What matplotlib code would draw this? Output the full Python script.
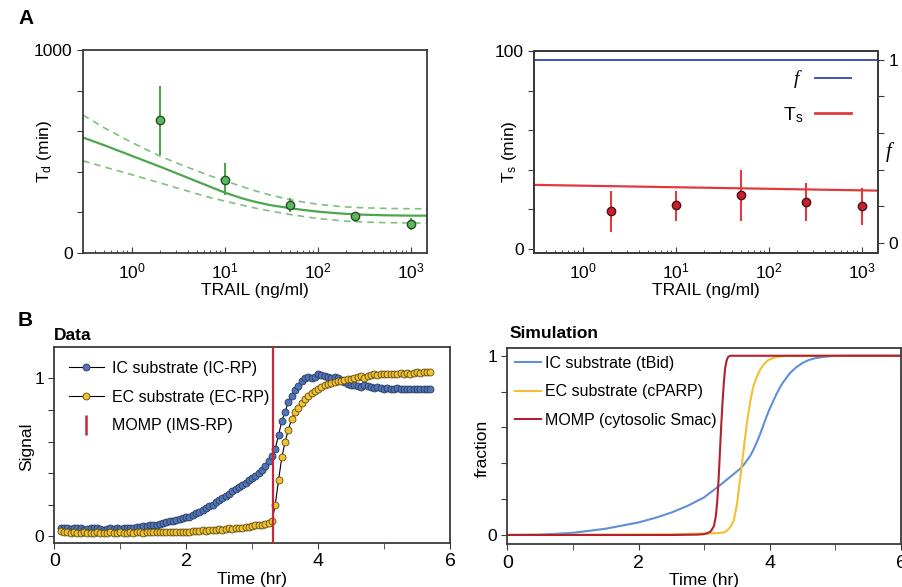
import numpy as np
import matplotlib
matplotlib.use("Agg")
import matplotlib.pyplot as plt
from matplotlib.lines import Line2D

plt.rcParams.update({
    "font.family": ["Liberation Sans", "DejaVu Sans"],
    "font.size": 12.5,
    "mathtext.fontset": "custom",
    "mathtext.rm": "Liberation Sans",
    "mathtext.it": "Liberation Serif:italic",
    "mathtext.bf": "Liberation Sans:bold",
    "axes.linewidth": 1.3,
    "axes.edgecolor": "#3a3a3a",
    "xtick.color": "#3a3a3a",
    "ytick.color": "#3a3a3a",
    "xtick.labelcolor": "black",
    "ytick.labelcolor": "black",
})

# ---- panel A: delay and switching times vs TRAIL dose ----
TRAIL = [2, 10, 50, 250, 1000]
TD_MEAN = [656, 361, 238, 180, 144]
TD_LO = [484, 287, 202, 151, 111]
TD_HI = [825, 443, 270, 197, 172]

FIT_X = [0.3, 0.5, 1, 2, 3, 5, 7, 10, 15, 20, 30, 50, 70, 100, 150, 200,
         300, 500, 1000, 1500]
TD_FIT = [569, 532, 479, 426, 394, 353, 326, 298, 271, 255, 237, 221, 212,
          204, 197, 193, 189, 186, 184, 184]
TD_FIT_HI = [680, 618, 545, 478, 445, 405, 380, 356, 329, 310, 287, 263,
             251, 240, 232, 227, 223, 220, 218, 218]
TD_FIT_LO = [454, 425, 386, 346, 322, 292, 273, 256, 237, 224, 208, 190,
             180, 170, 162, 157, 153, 150, 148, 148]

TS_MEAN = [19.0, 22.0, 27.2, 23.8, 21.5]
TS_LO = [8.4, 14.4, 14.4, 14.4, 12.2]
TS_HI = [29.5, 29.5, 39.9, 33.2, 31.0]
TS_FIT_X = [0.3, 1500]
TS_FIT = [32.4, 29.5]
F_LEVEL = 1.0

# ---- panel B: reporter time courses (3 min sampling) ----
TIME = np.round(np.arange(0.10, 5.701, 0.05), 2)
IC_RP = [0.05, 0.055, 0.05, 0.045, 0.05, 0.055, 0.05, 0.04, 0.045, 0.05,
         0.055, 0.05, 0.045, 0.04, 0.045, 0.05, 0.045, 0.05, 0.045, 0.05,
         0.055, 0.05, 0.055, 0.06, 0.06, 0.065, 0.065, 0.07, 0.07, 0.075,
         0.08, 0.085, 0.09, 0.095, 0.10, 0.105, 0.11, 0.115, 0.12, 0.125,
         0.135, 0.145, 0.155, 0.17, 0.18, 0.19, 0.20, 0.215, 0.23, 0.24,
         0.255, 0.27, 0.285, 0.30, 0.31, 0.325, 0.34, 0.355, 0.37, 0.385,
         0.40, 0.42, 0.445, 0.475, 0.51, 0.555, 0.64, 0.73, 0.79, 0.85,
         0.89, 0.925, 0.95, 0.985, 1.0, 1.01, 1.005, 1.01, 1.025, 1.02,
         1.015, 1.01, 1.005, 1.01, 1.0, 0.99, 0.975, 0.965, 0.96, 0.955,
         0.95, 0.945, 0.955, 0.95, 0.945, 0.94, 0.945, 0.94, 0.935, 0.94,
         0.935, 0.93, 0.94, 0.935, 0.93, 0.935, 0.935, 0.93, 0.935, 0.935,
         0.935, 0.935, 0.935]
EC_RP = [0.035, 0.03, 0.025, 0.02, 0.025, 0.02, 0.02, 0.025, 0.02, 0.02,
         0.02, 0.025, 0.02, 0.02, 0.02, 0.025, 0.02, 0.02, 0.025, 0.02,
         0.02, 0.025, 0.02, 0.025, 0.025, 0.02, 0.025, 0.025, 0.025, 0.025,
         0.025, 0.03, 0.025, 0.03, 0.03, 0.025, 0.03, 0.03, 0.03, 0.03,
         0.035, 0.035, 0.035, 0.04, 0.035, 0.04, 0.04, 0.04, 0.045, 0.04,
         0.045, 0.05, 0.045, 0.05, 0.055, 0.055, 0.06, 0.06, 0.065, 0.07,
         0.07, 0.075, 0.08, 0.085, 0.095, 0.20, 0.355, 0.50, 0.60, 0.675,
         0.745, 0.785, 0.815, 0.845, 0.87, 0.89, 0.905, 0.92, 0.935, 0.945,
         0.955, 0.965, 0.97, 0.975, 0.98, 0.985, 0.99, 0.995, 0.995, 1.0,
         1.01, 1.015, 1.005, 1.015, 1.02, 1.025, 1.02, 1.025, 1.03, 1.025,
         1.03, 1.025, 1.03, 1.035, 1.03, 1.035, 1.03, 1.035, 1.04, 1.035,
         1.04, 1.04, 1.042]
MOMP_TIME = 3.31

SIM_T_IC = [0, 0.5, 1.0, 1.5, 2.0, 2.25, 2.5, 2.75, 3.0, 3.25, 3.3, 3.35,
            3.4, 3.45, 3.5, 3.55, 3.6, 3.65, 3.7, 3.75, 3.8, 3.85, 3.9,
            3.95, 4.0, 4.05, 4.1, 4.15, 4.2, 4.25, 4.3, 4.4, 4.5, 4.6, 4.7,
            4.8, 4.9, 5.0, 5.2, 6.0]
SIM_IC = [0, 0.002, 0.012, 0.035, 0.07, 0.095, 0.125, 0.163, 0.21, 0.28,
          0.295, 0.31, 0.325, 0.34, 0.355, 0.37, 0.39, 0.415, 0.44, 0.475,
          0.515, 0.56, 0.61, 0.66, 0.705, 0.745, 0.785, 0.82, 0.85, 0.875,
          0.9, 0.935, 0.96, 0.977, 0.987, 0.993, 0.997, 0.999, 1.0, 1.0]
SIM_T_EC = [0, 2.5, 3.0, 3.2, 3.3, 3.35, 3.4, 3.45, 3.5, 3.55, 3.6, 3.65, 3.7,
            3.75, 3.8, 3.85, 3.9, 3.95, 4.0, 4.1, 4.2, 4.3, 6.0]
SIM_EC = [0, 0.003, 0.008, 0.01, 0.014, 0.025, 0.045, 0.08, 0.17, 0.32, 0.47,
          0.62, 0.74, 0.83, 0.88, 0.92, 0.948, 0.968, 0.98, 0.993, 0.998,
          1.0, 1.0]
SIM_T_MOMP = [0, 2.5, 2.9, 3.0, 3.05, 3.1, 3.15, 3.18, 3.2, 3.22, 3.24, 3.26,
              3.28, 3.30, 3.32, 3.34, 3.36, 3.38, 3.40, 3.45, 6.0]
SIM_MOMP = [0, 0, 0.002, 0.005, 0.01, 0.02, 0.05, 0.11, 0.19, 0.31, 0.46,
            0.61, 0.74, 0.85, 0.93, 0.97, 0.99, 0.997, 1.0, 1.0, 1.0]

GREEN = "#4ca64c"
GREEN_PT = "#5cb85c"
RED = "#e03a3e"
BLUE_F = "#3344b0"

W, H = 902, 587
fig = plt.figure(figsize=(W / 100, H / 100), dpi=100)


def box(left, top, right, bottom):
    return [left / W, 1 - bottom / H, (right - left) / W, (bottom - top) / H]


def log_xaxis(ax):
    ax.set_xscale("log")
    ax.set_xlim(0.3, 1500)
    ax.set_xticks([1, 10, 100, 1000])
    ax.tick_params(axis="x", which="major", direction="in", length=4, pad=6)
    ax.tick_params(axis="x", which="minor", direction="in", length=2.5)
    ax.set_xlabel("TRAIL (ng/ml)", labelpad=1)


# --- A left: Td ---
ax = fig.add_axes(box(83, 50, 427, 253))
ax.plot(FIT_X, TD_FIT, color=GREEN, lw=1.6)
ax.plot(FIT_X, TD_FIT_HI, color="#7cc27c", lw=1.2, ls=(0, (4, 3)))
ax.plot(FIT_X, TD_FIT_LO, color="#7cc27c", lw=1.2, ls=(0, (4, 3)))
yerr = [np.subtract(TD_MEAN, TD_LO), np.subtract(TD_HI, TD_MEAN)]
ax.errorbar(TRAIL, TD_MEAN, yerr=yerr, fmt="o", color=GREEN, ms=6,
            mfc=GREEN_PT, mec="#2e4a2e", mew=1.0, elinewidth=1.5, capsize=0)
log_xaxis(ax)
ax.set_ylim(0, 1000)
ax.set_yticks(np.arange(0, 1001, 200))
ax.set_yticklabels(["0", "", "", "", "", "1000"])
ax.tick_params(axis="y", direction="out", length=4)
ax.set_ylabel("T$_{\\rm d}$ (min)")
ax.yaxis.set_label_coords(-0.085, 0.5)

# --- A right: Ts and f ---
ax = fig.add_axes(box(534, 51, 878, 253))
ax2 = ax.twinx()
ax.plot(TS_FIT_X, TS_FIT, color=RED, lw=1.6)
yerr = [np.subtract(TS_MEAN, TS_LO), np.subtract(TS_HI, TS_MEAN)]
ax.errorbar(TRAIL, TS_MEAN, yerr=yerr, fmt="o", color=RED, ms=6,
            mfc="#c8202c", mec="#4a1010", mew=1.0, elinewidth=1.5, capsize=0)
log_xaxis(ax)
ax.set_ylim(-2, 100)
ax.set_yticks(np.arange(0, 101, 20))
ax.set_yticklabels(["0", "", "", "", "", "100"])
ax.tick_params(axis="y", direction="out", length=4)
ax.set_ylabel("T$_{\\rm s}$ (min)")
ax.yaxis.set_label_coords(-0.045, 0.5)

ax2.axhline(F_LEVEL, color=BLUE_F, lw=1.3)
ax2.set_ylim(-0.054, 1.047)
ax2.set_yticks(np.arange(0, 1.01, 0.2))
ax2.set_yticklabels(["0", "", "", "", "", "1"])
ax2.tick_params(axis="y", direction="out", length=4)
ax2.set_ylabel("$f$", rotation=0, fontsize=15)
ax2.yaxis.set_label_coords(1.035, 0.56)
handles = [Line2D([], [], color=BLUE_F, lw=1.3), Line2D([], [], color=RED, lw=2)]
ax.legend(handles, ["$f$", "T$_{\\rm s}$"], loc="upper right",
          bbox_to_anchor=(0.971, 1.0), frameon=False, markerfirst=False,
          handlelength=1.85, handletextpad=0.6, labelspacing=0.75, fontsize=14)

# --- B left: data ---
ax = fig.add_axes(box(54.3, 346.7, 450, 542.7))
ax.plot(TIME, IC_RP, "-o", color="black", lw=0.8, ms=5, mfc="#4f74b8",
        mec="#2a3a5a", mew=0.6, zorder=3)
ax.plot(TIME, EC_RP, "-o", color="black", lw=0.8, ms=5, mfc="#f2c233",
        mec="#5a4a10", mew=0.6, zorder=3)
ax.axvline(MOMP_TIME, color="#c4283a", lw=1.6, zorder=4)
ax.set_xlim(0, 6)
ax.set_ylim(-0.04, 1.2)
ax.set_xticks([0, 2, 4, 6])
ax.set_xticks([1, 3, 5], minor=True)
ax.set_yticks(np.arange(0, 1.01, 0.2))
ax.set_yticklabels(["0", "", "", "", "", "1"])
ax.tick_params(axis="both", which="both", direction="out", length=4)
ax.tick_params(axis="x", which="major", labelsize=14)
ax.set_xlabel("Time (hr)", labelpad=1)
ax.set_ylabel("Signal")
ax.yaxis.set_label_coords(-0.051, 0.49)
handles = [Line2D([], [], color="black", lw=0.8, marker="o", ms=5, mfc="#4f74b8", mec="#2a3a5a", mew=0.6),
           Line2D([], [], color="black", lw=0.8, marker="o", ms=5, mfc="#f2c233", mec="#5a4a10", mew=0.6),
           Line2D([], [], color="#c4283a", ls="none", marker="|", ms=14, mew=1.8)]
ax.legend(handles, ["IC substrate (IC-RP)", "EC substrate (EC-RP)", "MOMP (IMS-RP)"],
          loc="upper left", bbox_to_anchor=(0.0, 1.0), frameon=False, fontsize=11.5,
          handlelength=2.2, handletextpad=0.5, labelspacing=0.85)
fig.text(54.3 / W, 1 - 335 / H, "Data", fontsize=12.5, fontweight="bold", va="center")

# --- B right: simulation ---
ax = fig.add_axes(box(507.3, 347.7, 901, 544.3))
ax.plot(SIM_T_IC, SIM_IC, color="#5e90d8", lw=1.5, label="IC substrate (tBid)")
ax.plot(SIM_T_EC, SIM_EC, color="#f4c030", lw=1.5, label="EC substrate (cPARP)")
ax.plot(SIM_T_MOMP, SIM_MOMP, color="#b3202e", lw=1.5, label="MOMP (cytosolic Smac)")
ax.set_xlim(0, 6)
ax.set_ylim(-0.052, 1.045)
ax.set_xticks([0, 2, 4, 6])
ax.set_xticks([1, 3, 5], minor=True)
ax.set_yticks(np.arange(0, 1.01, 0.2))
ax.set_yticklabels(["0", "", "", "", "", "1"])
ax.tick_params(axis="both", which="both", direction="out", length=4)
ax.tick_params(axis="x", which="major", labelsize=14)
ax.set_xlabel("Time (hr)", labelpad=1)
ax.set_ylabel("fraction")
ax.yaxis.set_label_coords(-0.044, 0.49)
ax.legend(loc="upper left", bbox_to_anchor=(0.0, 1.0), frameon=False, fontsize=11.5,
          handlelength=1.6, handletextpad=0.25, labelspacing=0.85, borderaxespad=0.1)
fig.text(510 / W, 1 - 334 / H, "Simulation", fontsize=12.5, fontweight="bold", va="center")

fig.text(18 / W, 1 - 18 / H, "A", fontsize=15, fontweight="bold", va="center")
fig.text(18 / W, 1 - 321 / H, "B", fontsize=15, fontweight="bold", va="center")

fig.savefig("out.png", dpi=100)
